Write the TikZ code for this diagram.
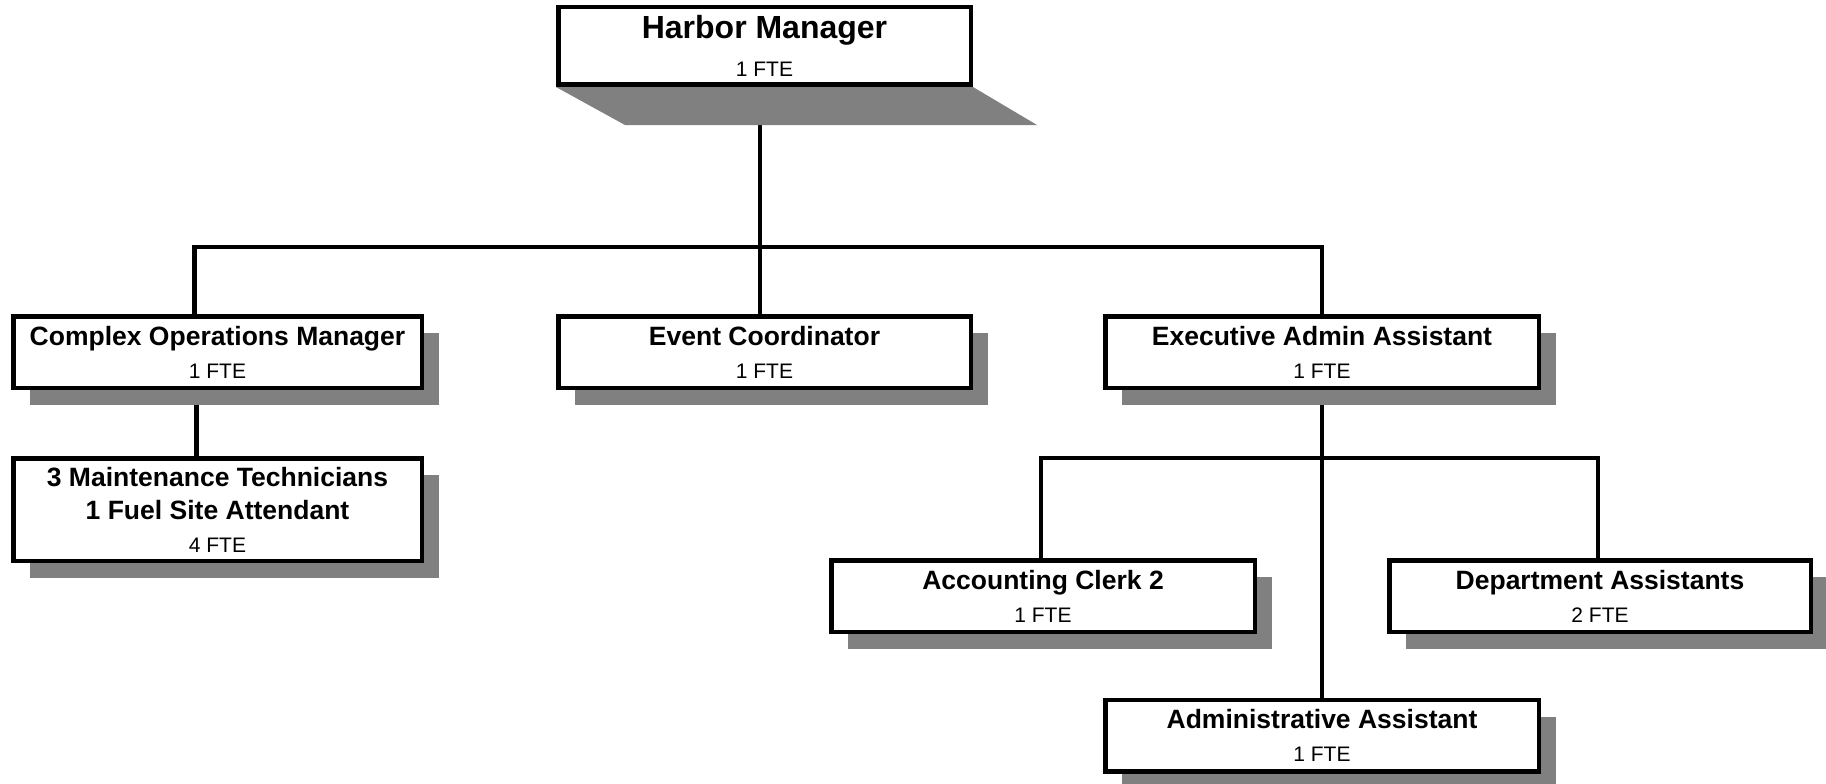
\documentclass[tikz,border=0pt]{standalone}
\usepackage{fontspec}
\setmainfont{Liberation Sans}
\usepackage{tikz}
\usetikzlibrary{positioning,backgrounds,shadows}
\definecolor{hbInk}{HTML}{000000}
\definecolor{hbShade}{HTML}{808080}
\newcommand{\ttlfont}{\fontsize{26.5}{33}\selectfont\bfseries}
\newcommand{\topfont}{\fontsize{32}{33}\selectfont\bfseries}
\newcommand{\ftefont}{\fontsize{21}{33}\selectfont}
\tikzset{
  plainbox/.style ={draw=hbInk,line width=4.5pt,fill=white,align=center,
                    inner sep=0pt,outer sep=0pt,font=\ftefont},
  unitbox/.style  ={plainbox,minimum height=71.5pt,
                    drop shadow={shadow xshift=17pt,shadow yshift=-17pt,
                                 opacity=1,fill=hbShade}},
  wire/.style     ={hbInk,line width=4.5pt,line join=miter},
  shade/.style    ={fill=hbShade,draw=none},
}
\begin{document}
\begin{tikzpicture}[x=1pt,y=1pt]
\useasboundingbox (0,0) rectangle (1826,-784);
%% top of the chart
\node[plainbox,minimum width=412.5pt,minimum height=77.5pt] (hm) at (764.5,-46)
  {{\topfont Harbor Manager}\\[5pt]1 FTE};
\fill[shade] ([shift={(-2.25,-2.25)}]hm.south west) -- ([shift={(2.25,-2.25)}]hm.south east)
  -- ++(64,-38) -- ([shift={(66.75,-40.25)}]hm.south west) -- cycle;
%% second level
\node[unitbox,minimum width=408.5pt] (cops) at (217.5,-352)
  {{\ttlfont Complex Operations Manager}\\1 FTE};
\node[unitbox,minimum width=412.5pt] (evc) at (764.5,-352)
  {{\ttlfont Event Coordinator}\\1 FTE};
\node[unitbox,minimum width=433.5pt] (exa) at (1322,-352)
  {{\ttlfont Executive Admin Assistant}\\1 FTE};
%% third level
\node[unitbox,minimum width=408.5pt,minimum height=102.5pt] (mnt) at (217.5,-509.5)
  {{\ttlfont 3 Maintenance Technicians}\\{\ttlfont 1 Fuel Site Attendant}\\4 FTE};
\node[unitbox,minimum width=423.5pt] (acc) at (1043,-596)
  {{\ttlfont Accounting Clerk 2}\\1 FTE};
\node[unitbox,minimum width=421.5pt] (dep) at (1600,-596)
  {{\ttlfont Department Assistants}\\2 FTE};
\node[unitbox,minimum width=433.5pt] (adm) at (1322,-735.5)
  {{\ttlfont Administrative Assistant}\\1 FTE};
\coordinate (bus) at (760,-247);
\coordinate (subbus) at (1322,-458);
\begin{scope}[on background layer]
  \draw[wire] ([xshift=-4.5]hm.south) -- ([xshift=-4.5]evc.north);
  \draw[wire] ([xshift=-23]cops.north) |- (bus) -| (exa.north);
  \draw[wire] ([xshift=-21]cops.south) -- ([xshift=-21]mnt.north);
  \draw[wire] (exa.south) -- (adm.north);
  \draw[wire] ([xshift=-2]acc.north) |- (subbus) -| ([xshift=-2]dep.north);
\end{scope}
\end{tikzpicture}
\end{document}
